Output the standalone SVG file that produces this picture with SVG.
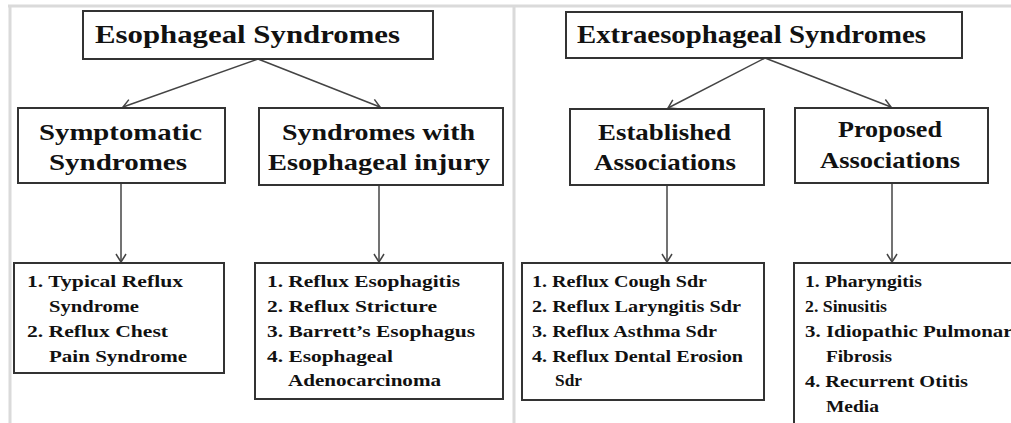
<svg xmlns="http://www.w3.org/2000/svg" width="1011" height="423" viewBox="0 0 1011 423">
<style>
.box{fill:#fff;stroke:#333;stroke-width:2}
.frame{stroke:#dadada;fill:none}
.conn{stroke:#444;stroke-width:1.5;fill:none}
text{font-family:"Liberation Serif","Times New Roman",serif;font-weight:bold;fill:#111}
.t1{font-size:25px}
.t2{font-size:23px}
.t3{font-size:17px}
</style>
<defs>
<marker id="arr" markerUnits="userSpaceOnUse" viewBox="-10 -6 12 12" refX="0" refY="0" markerWidth="12" markerHeight="12" orient="auto">
<path d="M-8,-5 L0,0 L-8,5" fill="none" stroke="#444" stroke-width="1.5"/>
</marker>
</defs>
<rect width="1011" height="423" fill="#fff"/>
<g id="frame">
<line class="frame" x1="8" y1="6" x2="1011" y2="6" stroke-width="3"/>
<line class="frame" x1="10" y1="5" x2="10" y2="423" stroke-width="3"/>
<line class="frame" x1="514" y1="5" x2="514" y2="423" stroke-width="3"/>
</g>
<g id="connectors">
<line class="conn" x1="258" y1="59" x2="123" y2="107" marker-end="url(#arr)"/>
<line class="conn" x1="258" y1="59" x2="380" y2="107" marker-end="url(#arr)"/>
<line class="conn" x1="121" y1="184" x2="121" y2="262" marker-end="url(#arr)"/>
<line class="conn" x1="379" y1="186" x2="379" y2="262" marker-end="url(#arr)"/>
<line class="conn" x1="765" y1="58" x2="668" y2="108" marker-end="url(#arr)"/>
<line class="conn" x1="765" y1="58" x2="891" y2="107" marker-end="url(#arr)"/>
<line class="conn" x1="667" y1="186" x2="667" y2="262" marker-end="url(#arr)"/>
<line class="conn" x1="892" y1="184" x2="892" y2="262" marker-end="url(#arr)"/>
</g>
<g id="esophageal">
<rect class="box" x="83" y="11" width="350" height="48"/>
<text class="t1" x="95" y="43" textLength="305" lengthAdjust="spacingAndGlyphs">Esophageal Syndromes</text>
</g>
<g id="symptomatic">
<rect class="box" x="18" y="108" width="207" height="75"/>
<text class="t2" x="39" y="140" textLength="163" lengthAdjust="spacingAndGlyphs">Symptomatic</text>
<text class="t2" x="49" y="170" textLength="138" lengthAdjust="spacingAndGlyphs">Syndromes</text>
</g>
<g id="injury">
<rect class="box" x="259" y="108" width="244" height="77"/>
<text class="t2" x="282" y="140" textLength="193" lengthAdjust="spacingAndGlyphs">Syndromes with</text>
<text class="t2" x="268" y="170" textLength="222" lengthAdjust="spacingAndGlyphs">Esophageal injury</text>
</g>
<g id="list-symptomatic">
<rect class="box" x="14" y="263" width="210" height="110"/>
<text class="t3" x="27" y="287" textLength="156" lengthAdjust="spacingAndGlyphs">1. Typical Reflux</text>
<text class="t3" x="49" y="312" textLength="90" lengthAdjust="spacingAndGlyphs">Syndrome</text>
<text class="t3" x="27" y="337" textLength="141" lengthAdjust="spacingAndGlyphs">2. Reflux Chest</text>
<text class="t3" x="49" y="362" textLength="138" lengthAdjust="spacingAndGlyphs">Pain Syndrome</text>
</g>
<g id="list-injury">
<rect class="box" x="255" y="263" width="248" height="136"/>
<text class="t3" x="267" y="287" textLength="193" lengthAdjust="spacingAndGlyphs">1. Reflux Esophagitis</text>
<text class="t3" x="267" y="312" textLength="170" lengthAdjust="spacingAndGlyphs">2. Reflux Stricture</text>
<text class="t3" x="267" y="337" textLength="208" lengthAdjust="spacingAndGlyphs">3. Barrett’s Esophagus</text>
<text class="t3" x="267" y="362" textLength="126" lengthAdjust="spacingAndGlyphs">4. Esophageal</text>
<text class="t3" x="288" y="386" textLength="153" lengthAdjust="spacingAndGlyphs">Adenocarcinoma</text>
</g>
<g id="extraesophageal">
<rect class="box" x="566" y="12" width="396" height="46"/>
<text class="t1" x="577" y="43" textLength="349" lengthAdjust="spacingAndGlyphs">Extraesophageal Syndromes</text>
</g>
<g id="established">
<rect class="box" x="570" y="109" width="194" height="76"/>
<text class="t2" x="598" y="140" textLength="133" lengthAdjust="spacingAndGlyphs">Established</text>
<text class="t2" x="594" y="170" textLength="142" lengthAdjust="spacingAndGlyphs">Associations</text>
</g>
<g id="proposed">
<rect class="box" x="795" y="108" width="193" height="75"/>
<text class="t2" x="838" y="137" textLength="104" lengthAdjust="spacingAndGlyphs">Proposed</text>
<text class="t2" x="820" y="168" textLength="140" lengthAdjust="spacingAndGlyphs">Associations</text>
</g>
<g id="list-established">
<rect class="box" x="522" y="263" width="242" height="137"/>
<text class="t3" x="532" y="287" textLength="175" lengthAdjust="spacingAndGlyphs">1. Reflux Cough Sdr</text>
<text class="t3" x="532" y="312" textLength="209" lengthAdjust="spacingAndGlyphs">2. Reflux Laryngitis Sdr</text>
<text class="t3" x="532" y="337" textLength="185" lengthAdjust="spacingAndGlyphs">3. Reflux Asthma Sdr</text>
<text class="t3" x="532" y="362" textLength="211" lengthAdjust="spacingAndGlyphs">4. Reflux Dental Erosion</text>
<text class="t3" x="555" y="386" textLength="27" lengthAdjust="spacingAndGlyphs">Sdr</text>
</g>
<g id="list-proposed">
<rect class="box" x="794" y="263" width="230" height="170"/>
<text class="t3" x="805" y="287" textLength="117" lengthAdjust="spacingAndGlyphs">1. Pharyngitis</text>
<text class="t3" x="805" y="312" textLength="82" lengthAdjust="spacingAndGlyphs">2. Sinusitis</text>
<text class="t3" x="805" y="337" textLength="218" lengthAdjust="spacingAndGlyphs">3. Idiopathic Pulmonary</text>
<text class="t3" x="826" y="362" textLength="66" lengthAdjust="spacingAndGlyphs">Fibrosis</text>
<text class="t3" x="805" y="387" textLength="163" lengthAdjust="spacingAndGlyphs">4. Recurrent Otitis</text>
<text class="t3" x="826" y="412" textLength="53" lengthAdjust="spacingAndGlyphs">Media</text>
</g>
</svg>
